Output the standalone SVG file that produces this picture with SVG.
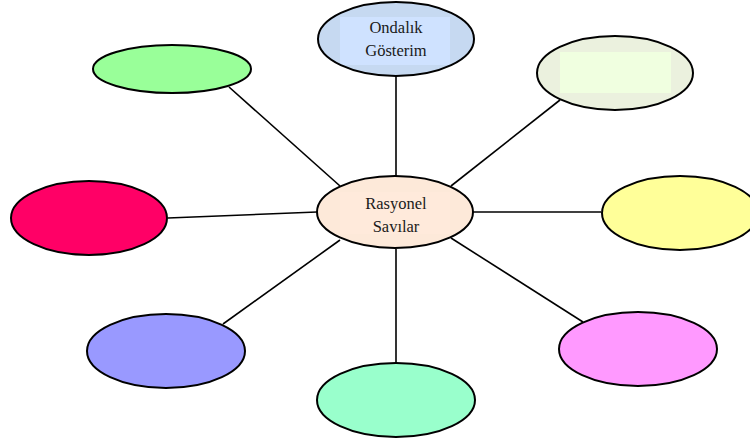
<svg xmlns="http://www.w3.org/2000/svg" width="750" height="443" viewBox="0 0 750 443">
  <style>
    .node { stroke: #000; stroke-width: 2; }
    .outline { stroke: #000; stroke-width: 2; fill: none; }
    .edge { stroke: #000; stroke-width: 1.6; fill: none; }
    .label { font-family: "Liberation Serif", "Times New Roman", serif; font-size: 16.5px; fill: #1a1a1a; text-anchor: middle; }
  </style>
  <rect width="750" height="443" fill="#fff"/>
  <g id="connectors">
    <line class="edge" x1="396" y1="76" x2="396" y2="177"/>
    <line class="edge" x1="560" y1="100" x2="451" y2="186"/>
    <line class="edge" x1="473" y1="212" x2="601" y2="212"/>
    <line class="edge" x1="451" y1="238" x2="583" y2="322"/>
    <line class="edge" x1="396" y1="249" x2="396" y2="364"/>
    <line class="edge" x1="340" y1="240" x2="223" y2="324"/>
    <line class="edge" x1="168" y1="218" x2="317" y2="212"/>
    <line class="edge" x1="229" y1="87" x2="340" y2="186"/>
  </g>
  <g id="ondalik">
    <ellipse cx="396" cy="39" rx="78" ry="37" fill="#c6d9f1"/>
    <rect x="340" y="17" width="110" height="48" fill="#cfe2ff"/>
    <ellipse class="outline" cx="396" cy="39" rx="78" ry="37"/>
    <text class="label" x="396" y="33">Ondalık</text>
    <text class="label" x="396" y="56">Gösterim</text>
  </g>
  <g id="top-right">
    <ellipse cx="615" cy="73" rx="78" ry="37" fill="#ebf1de"/>
    <rect x="560" y="52" width="111" height="41" fill="#f0ffe0"/>
    <ellipse class="outline" cx="615" cy="73" rx="78" ry="37"/>
  </g>
  <g id="rasyonel">
    <ellipse cx="395" cy="212" rx="78" ry="36" fill="#fde9d9"/>
    <rect x="340" y="192" width="110" height="42" fill="#ffeadb"/>
    <ellipse class="outline" cx="395" cy="212" rx="78" ry="36"/>
    <text class="label" x="396" y="209">Rasyonel</text>
    <text class="label" x="396" y="232">Savılar</text>
  </g>
  <g id="right">
    <ellipse class="node" cx="680" cy="213" rx="78" ry="37" fill="#ffff99"/>
  </g>
  <g id="left">
    <ellipse class="node" cx="89" cy="218" rx="78" ry="37" fill="#ff0066"/>
  </g>
  <g id="top-left">
    <ellipse class="node" cx="172" cy="69" rx="79" ry="24" fill="#99ff99"/>
  </g>
  <g id="bottom-left">
    <ellipse class="node" cx="166" cy="351" rx="79" ry="37" fill="#9999ff"/>
  </g>
  <g id="bottom">
    <ellipse class="node" cx="396" cy="400" rx="79" ry="37" fill="#99ffcc"/>
  </g>
  <g id="bottom-right">
    <ellipse class="node" cx="638" cy="349" rx="79" ry="37" fill="#ff99ff"/>
  </g>
</svg>
